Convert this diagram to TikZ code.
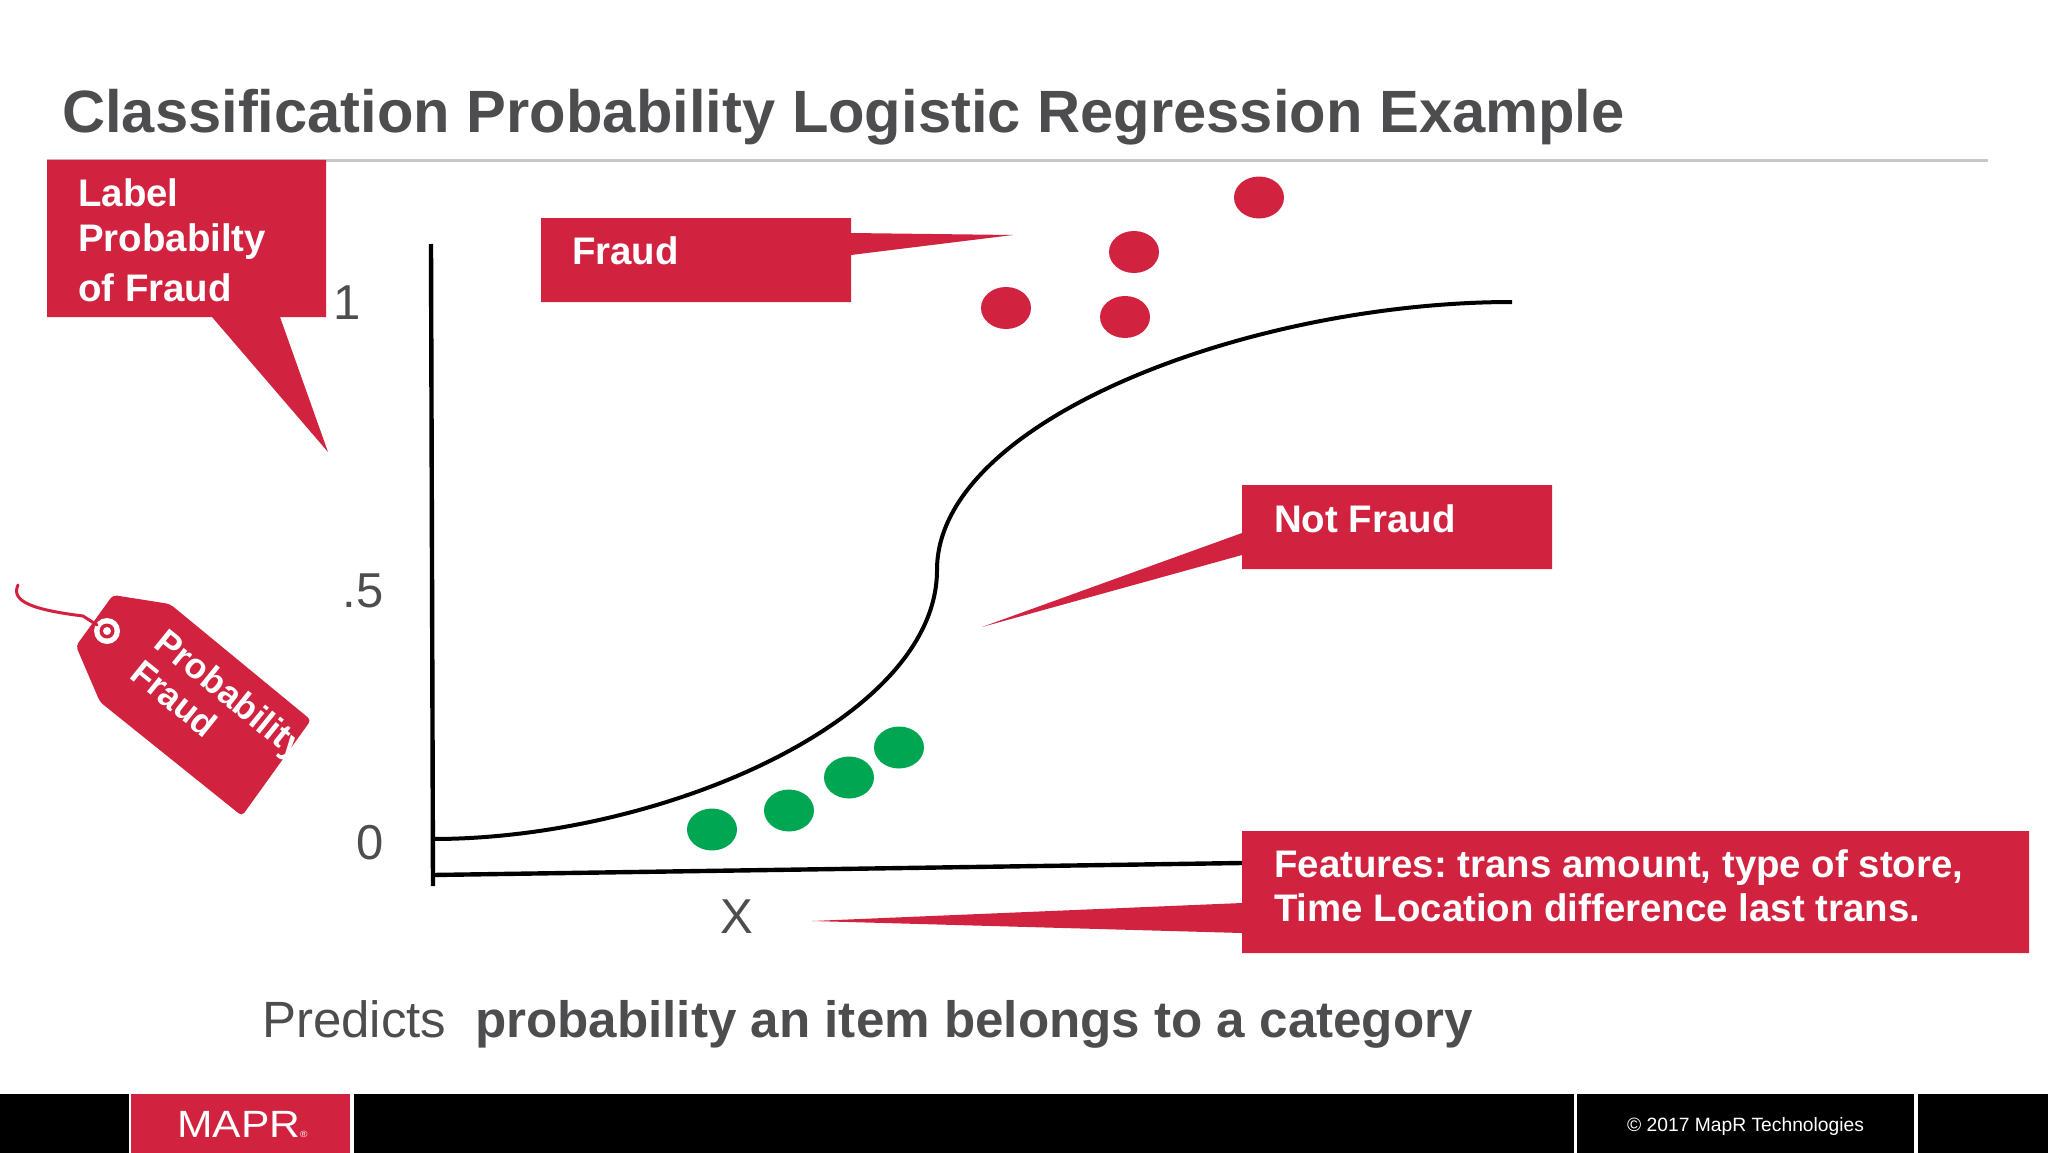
\documentclass[tikz,border=0pt]{standalone}
\usepackage{fontspec}
\setmainfont{Liberation Sans}
\frenchspacing
\definecolor{mred}{RGB}{209,35,63}
\definecolor{mgreen}{RGB}{0,166,81}
\definecolor{tgray}{RGB}{77,77,79}
\definecolor{rulegray}{RGB}{200,200,200}
\tikzset{
  redshape/.style={fill=mred,draw=none},
  boxlabel/.style={anchor=base west,text=white,font=\bfseries\fontsize{38.4}{38}\selectfont,inner sep=0pt},
  axisline/.style={draw=black,line width=4.4pt},
  ticklabel/.style={text=tgray,font=\fontsize{49}{49}\selectfont,inner sep=0pt,anchor=base},
  reddot/.style={ellipse,fill=mred,minimum width=50pt,minimum height=42pt,inner sep=0pt},
  greendot/.style={ellipse,fill=mgreen,minimum width=50pt,minimum height=42pt,inner sep=0pt},
  taglabel/.style={text=white,font=\bfseries\fontsize{35.5}{35}\selectfont,inner sep=0pt,rotate=-39,anchor=base west},
}
\usetikzlibrary{shapes.geometric}
\begin{document}
\begin{tikzpicture}[x=1pt,y=-1pt]
\useasboundingbox (0,0) rectangle (2048,1153);
% title
\node[anchor=base west,inner sep=0pt,text=tgray,font=\bfseries\fontsize{59.7}{60}\selectfont] (title) at (62,132) {Classification Probability Logistic Regression Example};
\coordinate (ruleL) at (47,160.5); \coordinate (ruleR) at (1988,160.5);
\draw[rulegray,line width=3.5pt] (ruleL) -- (ruleR);
% axes
\coordinate (yTop) at (431,244); \coordinate (yBot) at (433,886);
\coordinate (xL) at (433,875); \coordinate (xR) at (1242,863);
\draw[axisline] (yTop) -- (yBot);
\draw[axisline] (xL) -- (xR);
% curve
\coordinate (c0) at (433,839); \coordinate (c1) at (937,570); \coordinate (c2) at (1512,302);
\draw[black,line width=4pt] (c0) .. controls (660,839) and (937,720) .. (c1) .. controls (937,420) and (1250,302) .. (c2);
% ticks
\node[ticklabel] (t1) at (347,319) {1};
\node[ticklabel] (t5) at (363,607.5) {.5};
\node[ticklabel] (t0) at (370,859) {0};
\node[ticklabel] (tx) at (737,933) {X};
% dots
\node[reddot] (r1) at (1259,197.5) {};
\node[reddot] (r2) at (1134,252) {};
\node[reddot] (r3) at (1006,308) {};
\node[reddot] (r4) at (1125,317) {};
\node[greendot] (g1) at (712,829.5) {};
\node[greendot] (g2) at (789,810.5) {};
\node[greendot] (g3) at (849,777.5) {};
\node[greendot] (g4) at (899,747.5) {};
% label callout
\fill[redshape] (47,160) -- (326,160) -- (326,317) -- (280,317) -- (328,452) -- (212,317) -- (47,317) -- cycle;
\node[boxlabel] (l1) at (78,206) {Label};
\node[boxlabel] (l2) at (78,251) {Probabilty};
\node[boxlabel] (l3) at (78,301) {of Fraud};
% fraud callout
\fill[redshape] (541,218) -- (851,218) -- (851,233) -- (1013,235) -- (851,255) -- (851,302) -- (541,302) -- cycle;
\node[boxlabel] (f) at (572,264) {Fraud};
% not fraud callout
\fill[redshape] (1242,485) -- (1552,485) -- (1552,569) -- (1242,569) -- (1242,555) -- (982,627) -- (1242,533) -- cycle;
\node[boxlabel] (n) at (1274,532) {Not Fraud};
% features callout
\fill[redshape] (1242,831) -- (2029,831) -- (2029,953) -- (1242,953) -- (1242,933) -- (812,921) -- (1242,903) -- cycle;
\node[boxlabel] (fe1) at (1274,877) {Features: trans amount, type of store,};
\node[boxlabel] (fe2) at (1274,921) {Time Location difference last trans.};
% predicts
\node[anchor=base west,inner sep=0pt,text=tgray,font=\fontsize{51}{51}\selectfont] (p1) at (262,1037) {Predicts};
\node[anchor=base west,inner sep=0pt,text=tgray,font=\bfseries\fontsize{51.15}{51}\selectfont] (p2) at (475,1037) {probability an item belongs to a category};
% tag
\fill[redshape,rounded corners=4pt] (113,595) -- (170,604) -- (311,720) -- (242,816) -- (100,702) -- (76,646) -- cycle;
\fill[white] (107,631) circle (13);
\fill[mred] (107,631) circle (7.5);
\fill[white] (107,631) circle (4);
\coordinate (s0) at (18,585); \coordinate (s1) at (83,616); \coordinate (s2) at (97,625);
\draw[mred,line width=3pt,line cap=round] (s0) .. controls (10,602) and (35,610) .. (s1) -- (s2);
\node[taglabel] (tg1) at (152,646) {Probability};
\node[taglabel] (tg2) at (128,677) {Fraud};
% footer
\fill[black] (0,1094) rectangle (2048,1153);
\fill[mred] (131,1094) rectangle (350,1153);
\fill[white] (128.5,1094) rectangle (131,1153);
\fill[white] (350,1094) rectangle (354,1153);
\fill[white] (1574,1094) rectangle (1577,1153);
\fill[white] (1914,1094) rectangle (1918,1153);
\node[anchor=base west,inner sep=0pt,text=white,xscale=1.12,font=\fontsize{38}{38}\selectfont] (logo) at (177,1137) {MAPR{\fontsize{9}{9}\selectfont ®}};
\node[anchor=base west,inner sep=0pt,text=white,font=\fontsize{19.25}{20}\selectfont] (copy) at (1627,1131) {© 2017 MapR Technologies};
\end{tikzpicture}
\end{document}
